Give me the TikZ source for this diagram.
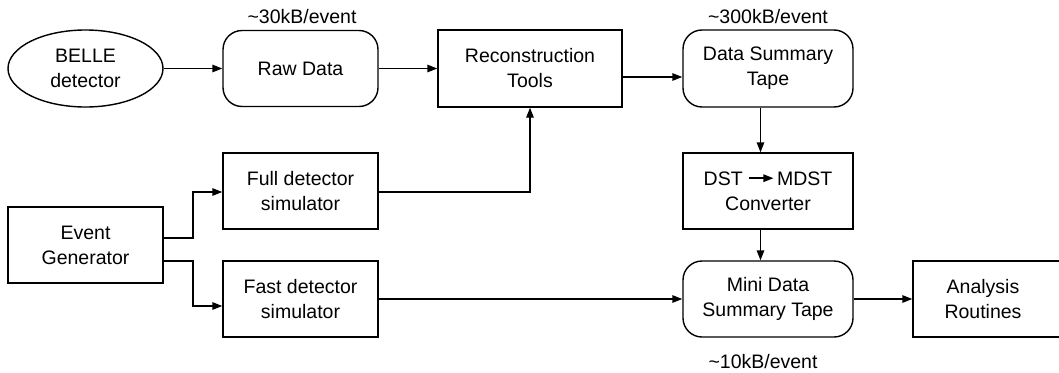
\documentclass[tikz,border=0pt]{standalone}
\usepackage{fontspec}
\setmainfont{Liberation Sans}
\usetikzlibrary{shapes.geometric,arrows.meta}
\begin{document}
\begin{tikzpicture}[x=1pt,y=-1pt,
  every node/.style={font=\fontsize{19.5}{25}\selectfont, align=center, inner sep=0pt},
  box/.style={draw, line width=1.4pt, minimum width=155pt, minimum height=76pt},
  rbox/.style={box, rounded corners=19pt},
  oval/.style={draw, line width=1.4pt, ellipse, minimum width=155pt, minimum height=77pt},
  conn/.style={line width=1.4pt, -{Triangle[length=10pt,width=7.5pt]}}]
\useasboundingbox (0,0) rectangle (1059,372);
\node[oval] (belle) at (85.5,68.5) {BELLE\\detector};
\node[rbox] (raw) at (300.5,68.5) {Raw Data};
\node[box, minimum width=184pt, minimum height=77pt] (recon) at (530,68.5) {Reconstruction\\Tools};
\node[rbox, minimum width=170pt, minimum height=77pt] (dst) at (768,68.5) {Data Summary\\Tape};
\node[box] (full) at (300.5,191) {Full detector\\simulator};
\node[box, minimum width=170pt] (conv) at (768,191) {DST\hspace{6pt}\tikz[baseline]\draw[line width=1.4pt,-{Triangle[length=10pt,width=7.5pt]}] (0pt,0.36em) -- (24pt,0.36em);\hspace{3pt}MDST\\Converter};
\node[box] (evgen) at (85.5,245) {Event\\Generator};
\node[box] (fast) at (300.5,299) {Fast detector\\simulator};
\node[rbox, minimum width=170pt] (mdst) at (768,299) {Mini Data\\Summary Tape};
\node[box, minimum width=152pt] (ana) at (989,299) {\hspace{-12pt}Analysis\\\hspace{-12pt}Routines};
\node (l30) at (302,17) {\textasciitilde 30kB/event};
\node (l300) at (768,17) {\textasciitilde 300kB/event};
\node (l10) at (763,362) {\textasciitilde 10kB/event};
\coordinate (ja) at (193,0);
\draw[conn] (belle.east) -- (raw.west);
\draw[conn] (raw.east) -- (recon.west);
\draw[conn] ([yshift=-8.5pt]recon.east) -- ([yshift=-8.5pt]dst.west);
\draw[conn] ([yshift=-1pt]full.east) -| (recon.south);
\draw[conn] ([xshift=-7.5pt]dst.south) -- ([xshift=-7.5pt]conv.north);
\draw[conn] ([xshift=-7.5pt]conv.south) -- ([xshift=-7.5pt]mdst.north);
\draw[conn] ([yshift=7pt]evgen.east) -| ([yshift=-1pt]ja |- full.west) -- ([yshift=-1pt]full.west);
\draw[conn] ([yshift=-16pt]evgen.east) -| ([yshift=-7pt]ja |- fast.west) -- ([yshift=-7pt]fast.west);
\draw[conn] (fast.east) -- (mdst.west);
\draw[conn] (mdst.east) -- (ana.west);
\end{tikzpicture}
\end{document}
